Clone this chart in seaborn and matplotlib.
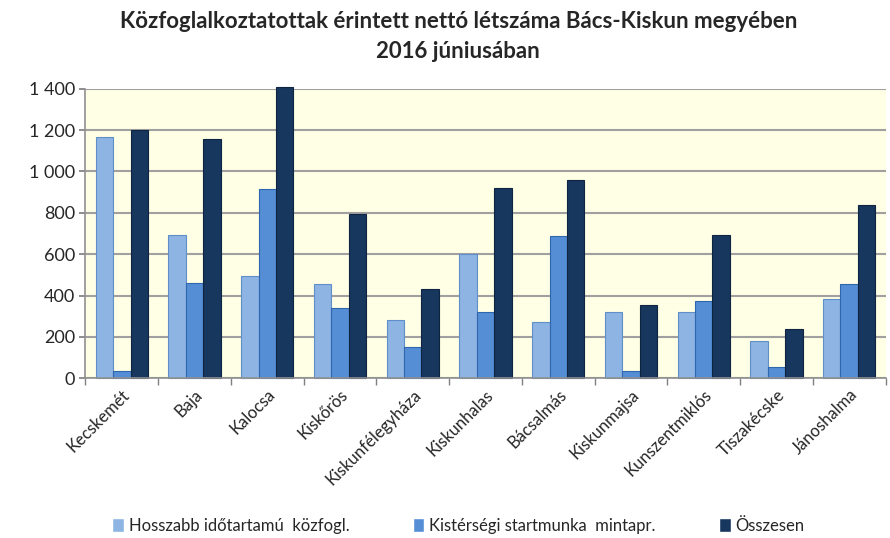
import numpy as np
import pandas as pd
import seaborn as sns
import matplotlib.pyplot as plt
from matplotlib.ticker import FuncFormatter, FixedLocator

# values
telepulesek = ['Kecskemét', 'Baja', 'Kalocsa', 'Kiskőrös', 'Kiskunfélegyháza',
               'Kiskunhalas', 'Bácsalmás', 'Kiskunmajsa', 'Kunszentmiklós',
               'Tiszakécske', 'Jánoshalma']
hosszabb = [1165, 695, 495, 455, 280, 600, 270, 320, 320, 182, 382]
kisterseg = [35, 460, 915, 340, 153, 320, 690, 33, 372, 55, 455]
osszesen = [1200, 1155, 1410, 795, 433, 920, 960, 353, 692, 237, 837]
sorozatok = ['Hosszabb időtartamú  közfogl.', 'Kistérségi startmunka  mintapr.', 'Összesen']
szinek = ['#8DB4E2', '#558ED5', '#17375E']
szelek = ['#5F8FC8', '#2F67AE', '#0E2440']

sns.set_theme(style='white')
plt.rcParams['font.family'] = ['Lato', 'DejaVu Sans']

df = pd.DataFrame({
    'telepules': telepulesek * 3,
    'ertek': hosszabb + kisterseg + osszesen,
    'sorozat': [s for s in sorozatok for _ in telepulesek],
})

fig = plt.figure(figsize=(8.9, 5.38), dpi=100)
ax = fig.add_axes([0.096, 0.297, 0.899, 0.538])
ax.set_facecolor('#FFFFE5')

sns.barplot(data=df, x='telepules', y='ertek', hue='sorozat', hue_order=sorozatok,
            palette=szinek, width=0.72, gap=0.0, ax=ax, legend=True, saturation=1)

# edge colours per series, bars may poke above the top
for cont, ec in zip(ax.containers, szelek):
    for bar in cont:
        bar.set_edgecolor(ec)
        bar.set_linewidth(0.8)
        bar.set_clip_on(False)

ax.set_ylim(0, 1400)
ax.set_xlim(-0.5, len(telepulesek) - 0.5)
ax.set_yticks(range(0, 1401, 200))
ax.yaxis.set_major_formatter(FuncFormatter(lambda v, p: f'{int(v):,}'.replace(',', ' ')))
ax.xaxis.set_minor_locator(FixedLocator(np.arange(-0.5, len(telepulesek), 1.0)))
ax.grid(axis='y', color='#A0A0A0', linewidth=1.5)
ax.set_axisbelow(True)
ax.set_xlabel('')
ax.set_ylabel('')
ax.tick_params(axis='y', labelsize=13, length=4, left=True, color='#808080')
ax.tick_params(axis='x', which='major', labelsize=12, length=0, pad=6)
ax.tick_params(axis='x', which='minor', length=5, bottom=True, color='#808080')
plt.setp(ax.get_xticklabels(), rotation=45, ha='right', rotation_mode='anchor')
for side in ['top', 'right']:
    ax.spines[side].set_visible(False)
for side in ['left', 'bottom']:
    ax.spines[side].set_color('#909090')
    ax.spines[side].set_linewidth(1.2)

ax.legend(loc='center', bbox_to_anchor=(0.515, 0.022), bbox_transform=fig.transFigure,
          ncol=3, frameon=False, fontsize=12, handlelength=0.7, handleheight=0.9,
          handletextpad=0.3, columnspacing=3.8)

fig.suptitle('Közfoglalkoztatottak érintett nettó létszáma Bács-Kiskun megyében\n2016 júniusában',
             x=0.515, y=0.98, fontsize=16, fontweight='bold', linespacing=1.55)

fig.savefig('out.png', dpi=100)
